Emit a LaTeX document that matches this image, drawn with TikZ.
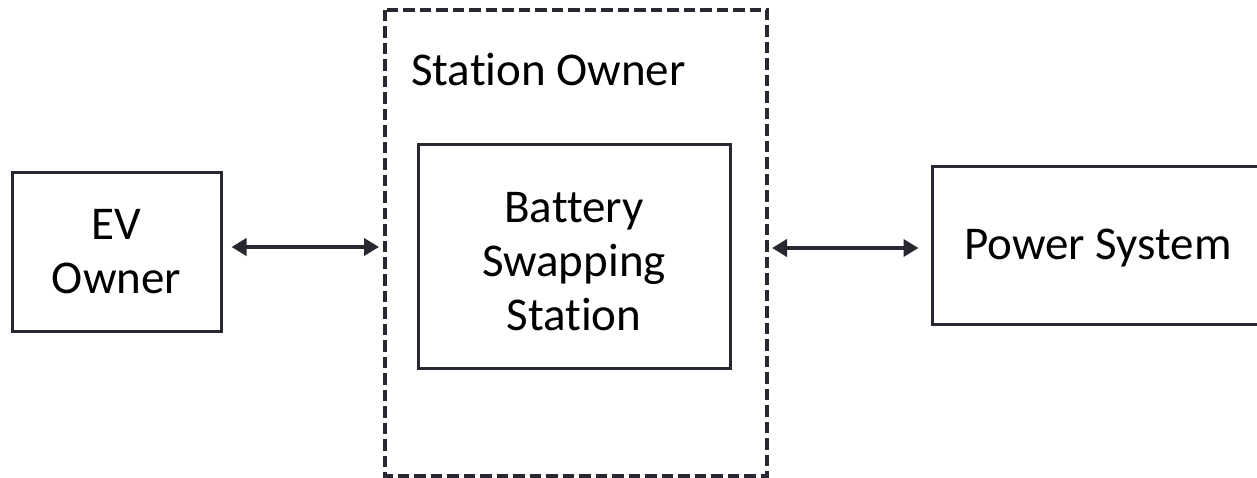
\documentclass[tikz,border=0pt]{standalone}
\usepackage{fontspec}
\setmainfont[Ligatures=NoCommon]{Carlito}
\usetikzlibrary{arrows.meta}
\definecolor{linec}{RGB}{40,40,50}
\tikzset{
  txt/.style={font=\fontsize{47}{54}\selectfont, align=center, inner sep=0pt},
  block/.style={draw=linec, line width=3pt, inner sep=0pt},
  group/.style={draw=linec, line width=4pt, dash pattern=on 11.5pt off 5pt},
  link/.style={draw=linec, line width=4.5pt,
    {Triangle[length=15pt,width=17pt]}-{Triangle[length=15pt,width=17pt]}},
}
\begin{document}
\begin{tikzpicture}[x=1pt,y=-1pt]
  \useasboundingbox (0,0) rectangle (1257,478);
  \begin{scope}
    \clip (0,0) rectangle (1257,478);
    % station owner boundary
    \draw[group] (385,10) rectangle (767,476);
    \node[anchor=base west, txt] (owner) at (411,86) {Station Owner};
    % blocks
    \node[block, minimum width=209pt, minimum height=158pt] (ev) at (116.5,252) {};
    \node[block, minimum width=312pt, minimum height=223pt] (bss) at (574,256.5) {};
    \node[block, minimum width=332pt, minimum height=157pt] (ps) at (1098,245.5) {};
    % block texts
    \node[txt] (evt) at ([yshift=0pt]ev.center) {EV\\Owner};
    \node[txt] (bsst) at ([yshift=-5pt]bss.center) {Battery\\Swapping\\Station};
    \node[txt] (pst) at ([yshift=-3pt]ps.center) {Power System};
    % arrows between the blocks and the dashed boundary
    \coordinate (gl) at (385,247);
    \coordinate (gr) at (767,248);
    \draw[link] ([xshift=9pt]ev.east |- gl) -- ([xshift=-6pt]gl);
    \draw[link] ([xshift=5pt]gr) -- ([xshift=-12pt]ps.west |- gr);
  \end{scope}
\end{tikzpicture}
\end{document}
